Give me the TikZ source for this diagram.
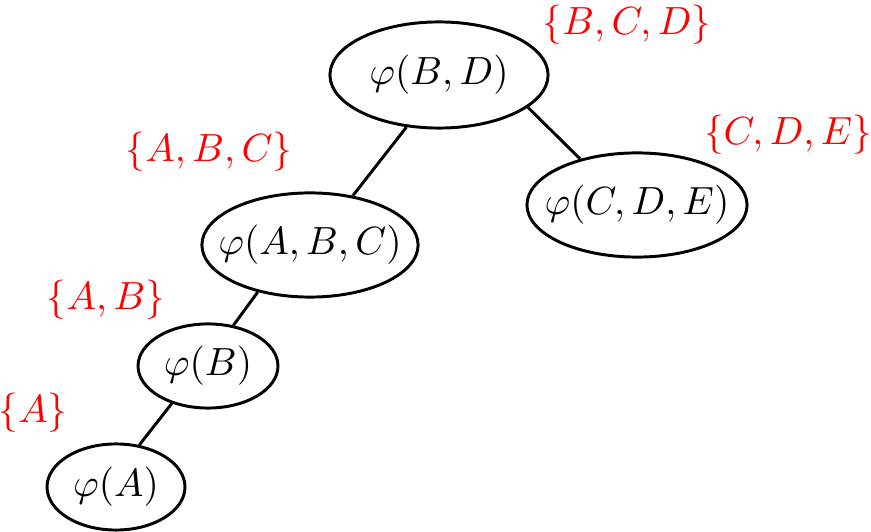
\documentclass[tikz,border=0pt]{standalone}
\usetikzlibrary{shapes.geometric}
\begin{document}
\begin{tikzpicture}[x=0.2544pt,y=-0.2544pt,
  fnode/.style={ellipse,draw,line width=0.75pt,inner sep=0pt},
  scope/.style={text=red,inner sep=0pt},
  link/.style={line width=0.75pt}]
\useasboundingbox (0,0) rectangle (871,532);
\node[fnode,minimum width=55.5pt,minimum height=27pt,label=center:{$\varphi(B,D)$}] (bd) at (439,75) {};
\node[fnode,minimum width=56pt,minimum height=26.5pt,label=center:{$\varphi(C,D,E)$}] (cde) at (637,205) {};
\node[fnode,minimum width=55pt,minimum height=26.5pt,label=center:{$\varphi(A,B,C)$}] (abc) at (310,245) {};
\node[fnode,minimum width=35.6pt,minimum height=21.4pt,label=center:{$\varphi(B)$}] (b) at (208,366) {};
\node[fnode,minimum width=35.1pt,minimum height=21.9pt,label=center:{$\varphi(A)$}] (a) at (116,487) {};
\draw[link] (bd.-20) -- (cde.141);
\draw[link] (bd.-122) -- (abc.49);
\draw[link] (abc.-138) -- (b.58);
\draw[link] (b.-134) -- (a.61);
\node[scope] (lbd) at (627,25) {$\{B,C,D\}$};
\node[scope] (lcde) at (788,135) {$\{C,D,E\}$};
\node[scope] (labc) at (209,152) {$\{A,B,C\}$};
\node[scope] (lb) at (106,300) {$\{A,B\}$};
\node[scope] (la) at (33,413) {$\{A\}$};
\end{tikzpicture}
\end{document}
